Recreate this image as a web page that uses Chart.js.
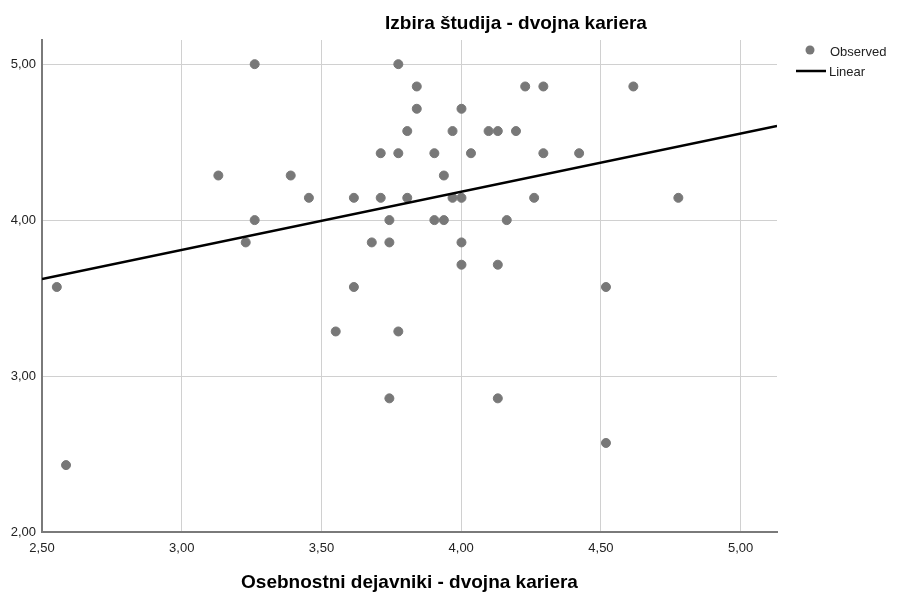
<!DOCTYPE html>
<html>
<head>
<meta charset="utf-8">
<script src="https://cdn.jsdelivr.net/npm/chart.js@4"></script>
<style>
  html, body { margin: 0; padding: 0; background: #fff; }
  #wrap { width: 897px; height: 595px; position: relative; }
</style>
</head>
<body>
<div id="wrap"><canvas id="scatterChart"></canvas></div>
<script>
const obsX = [2.553, 2.586, 3.131, 3.229, 3.261, 3.261, 3.390, 3.455, 3.551, 3.616,
              3.616, 3.680, 3.712, 3.712, 3.743, 3.743, 3.743, 3.775, 3.775, 3.775,
              3.807, 3.807, 3.841, 3.841, 3.904, 3.904, 3.938, 3.938, 3.969, 3.969,
              4.001, 4.001, 4.001, 4.001, 4.035, 4.098, 4.131, 4.131, 4.131, 4.163,
              4.196, 4.229, 4.261, 4.294, 4.294, 4.422, 4.518, 4.518, 4.616, 4.777];
const obsY = [3.571, 2.429, 4.286, 3.857, 5.000, 4.000, 4.286, 4.143, 3.286, 4.143,
              3.571, 3.857, 4.429, 4.143, 4.000, 3.857, 2.857, 5.000, 4.429, 3.286,
              4.571, 4.143, 4.857, 4.714, 4.429, 4.000, 4.286, 4.000, 4.571, 4.143,
              4.714, 4.143, 3.857, 3.714, 4.429, 4.571, 4.571, 3.714, 2.857, 4.000,
              4.571, 4.857, 4.143, 4.857, 4.429, 4.429, 3.571, 2.571, 4.857, 4.143];

// fitted line end points
const lineX = [2.5, 5.13];
const lineY = [3.622, 4.603];

const xTicks = [2.5, 3.0, 3.5, 4.0, 4.5, 5.0];
const yTicks = [2, 3, 4, 5];

const chartTitle = 'Izbira študija - dvojna kariera';
const xTitle = 'Osebnostni dejavniki - dvojna kariera';
const seriesNames = ['Observed', 'Linear'];

const fmt = v => Number(v).toFixed(2).replace('.', ',');

const extras = {
    id: 'extras',
    afterDraw(chart) {
        const ctx = chart.ctx;
        ctx.save();
        ctx.fillStyle = '#000';
        ctx.font = 'bold 19px "Liberation Sans", Arial, sans-serif';
        ctx.textAlign = 'center';
        ctx.textBaseline = 'middle';
        ctx.fillText(chartTitle, 516, 24);

        // legend
        ctx.font = '13px "Liberation Sans", Arial, sans-serif';
        ctx.textAlign = 'left';
        ctx.fillStyle = '#787878';
        ctx.beginPath(); ctx.arc(810, 50, 4.5, 0, Math.PI * 2); ctx.fill();
        ctx.fillStyle = '#222';
        ctx.fillText(seriesNames[0], 830, 52);
        ctx.strokeStyle = '#000'; ctx.lineWidth = 2.5;
        ctx.beginPath(); ctx.moveTo(796, 71); ctx.lineTo(826, 71); ctx.stroke();
        ctx.fillText(seriesNames[1], 829, 72);
        ctx.restore();
    }
};

new Chart(document.getElementById('scatterChart'), {
    type: 'scatter',
    data: {
        datasets: [
            { label: seriesNames[0], data: obsX.map((x, i) => ({ x: x, y: obsY[i] })),
              backgroundColor: '#787878', borderColor: '#787878', pointRadius: 4.5, pointHoverRadius: 4.5, order: 2 },
            { type: 'line', label: seriesNames[1], data: lineX.map((x, i) => ({ x: x, y: lineY[i] })),
              borderColor: '#000', borderWidth: 2.5, pointRadius: 0, fill: false, order: 1 }
        ]
    },
    plugins: [extras],
    options: {
        responsive: true,
        maintainAspectRatio: false,
        animation: false,
        layout: { padding: { left: 0, right: 120, top: 40, bottom: 0 } },
        plugins: { legend: { display: false }, tooltip: { enabled: false } },
        scales: {
            x: {
                type: 'linear', min: 2.5, max: 5.13,
                afterBuildTicks: s => { s.ticks = xTicks.map(v => ({ value: v })); },
                afterFit: s => { s.height = 63; },
                ticks: { callback: fmt, padding: 9, color: '#222', font: { size: 13, family: '"Liberation Sans", Arial' }, maxRotation: 0 },
                grid: { color: '#d0d0d0', drawTicks: false },
                border: { color: '#7a7a7a', width: 2 },
                title: { display: true, text: xTitle, color: '#000', padding: { top: 0, bottom: 1 },
                         font: { size: 19, weight: 'bold', family: '"Liberation Sans", Arial' } }
            },
            y: {
                type: 'linear', min: 2, max: 5.155,
                afterBuildTicks: s => { s.ticks = yTicks.map(v => ({ value: v })); },
                afterFit: s => { s.width = 42; },
                ticks: { callback: fmt, padding: 6, color: '#222', font: { size: 13, family: '"Liberation Sans", Arial' } },
                grid: { color: '#d0d0d0', drawTicks: false },
                border: { color: '#7a7a7a', width: 2 }
            }
        }
    }
});
</script>
</body>
</html>
